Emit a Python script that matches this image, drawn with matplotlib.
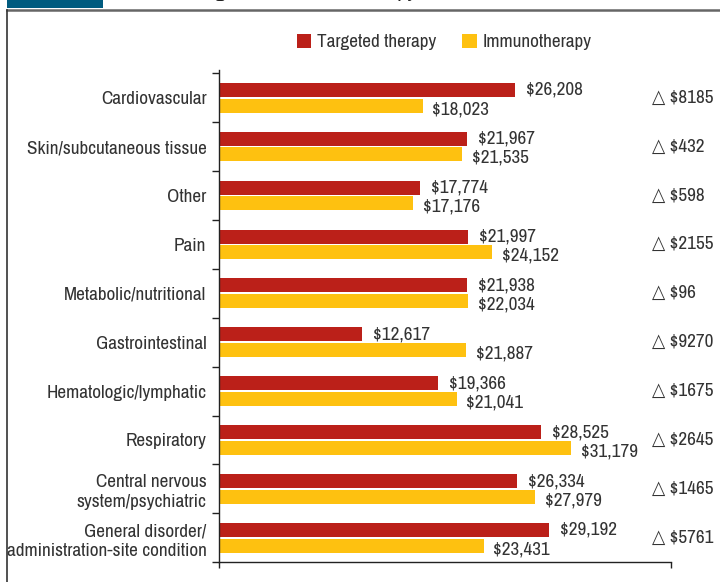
import matplotlib
matplotlib.use("Agg")
import matplotlib.pyplot as plt
from matplotlib import font_manager
from matplotlib.patches import Rectangle
from matplotlib.lines import Line2D
import numpy as np

# condensed sans like the original (Helvetica Condensed style)
installed = {f.name for f in font_manager.fontManager.ttflist}
for fam in ["Nimbus Sans Narrow", "Liberation Sans Narrow", "Archivo Narrow", "PT Sans Narrow"]:
    if fam in installed:
        break
else:
    fam = "DejaVu Sans"
plt.rcParams["font.family"] = [fam, "DejaVu Sans"]
plt.rcParams["font.stretch"] = "condensed"

categories = [
    "Cardiovascular",
    "Skin/subcutaneous tissue",
    "Other",
    "Pain",
    "Metabolic/nutritional",
    "Gastrointestinal",
    "Hematologic/lymphatic",
    "Respiratory",
    "Central nervous\nsystem/psychiatric",
    "General disorder/\nadministration-site condition",
]
targeted = [26208, 21967, 17774, 21997, 21938, 12617, 19366, 28525, 26334, 29192]
immuno = [18023, 21535, 17176, 24152, 22034, 21887, 21041, 31179, 27979, 23431]
deltas = ["$8185", "$432", "$598", "$2155", "$96", "$9270", "$1675", "$2645", "$1465", "$5761"]

RED = "#BB2019"
YELLOW = "#FEC110"
TXT = "#333333"
FS = 13.8

fig = plt.figure(figsize=(7.2, 5.82), dpi=100)
ax = fig.add_axes([0.304, 0.034, 0.628, 0.846])

y = np.arange(len(categories))
h = 0.285
ax.barh(y - 0.16, targeted, height=h, color=RED, label="Targeted therapy")
ax.barh(y + 0.16, immuno, height=h, color=YELLOW, label="Immunotherapy")

for i in range(len(categories)):
    ax.annotate(f"${targeted[i]:,}", (targeted[i], y[i] - 0.16), xytext=(8, 0),
                textcoords="offset points", va="center", ha="left", fontsize=FS, color=TXT)
    ax.annotate(f"${immuno[i]:,}", (immuno[i], y[i] + 0.16), xytext=(7, -2.5),
                textcoords="offset points", va="center", ha="left", fontsize=FS, color=TXT)
    ax.text(0.958, y[i], "\u25b3 " + deltas[i], transform=ax.get_yaxis_transform(),
            va="center", ha="left", fontsize=FS, color=TXT)

ax.set_xlim(0, 40000)
ax.set_ylim(9.5, -0.57)
ax.set_yticks(y)
ax.set_yticklabels(categories, fontsize=FS, color=TXT, linespacing=1.25)
ax.set_yticks(np.arange(-0.5, 9.6, 1), minor=True)
ax.tick_params(axis="y", which="major", length=0, pad=9)
ax.tick_params(axis="y", which="minor", length=5, width=1, color="#222222")
ax.set_xticks([0, 40000])
ax.set_xticklabels([])
ax.tick_params(axis="x", length=4, width=1, color="#222222")
for s in ["top", "right"]:
    ax.spines[s].set_visible(False)
for s in ["left", "bottom"]:
    ax.spines[s].set_color("#222222")
    ax.spines[s].set_linewidth(1)

fig.legend(loc="center", bbox_to_anchor=(0.617, 0.928), ncol=2, frameon=False,
           fontsize=FS, handlelength=0.75, handleheight=0.75, handletextpad=0.3,
           columnspacing=1.35, labelcolor=TXT)

# frame and cut-off header
fig.add_artist(Rectangle((0.0097, 0.987), 0.133, 0.013, transform=fig.transFigure,
                         color="#005B7F", lw=0))
fig.add_artist(Line2D([0.0097, 1], [0.983, 0.983], transform=fig.transFigure,
                      color="#666666", lw=1.8))
fig.add_artist(Line2D([0.0097, 0.0097], [0, 0.983], transform=fig.transFigure,
                      color="#333333", lw=1.2))
fig.text(0.155, 1.0055, "AE costs, targeted vs immunotherapy", fontsize=16,
         fontweight="bold", color="#222222", va="baseline", ha="left")

fig.savefig("out.png", dpi=100)
